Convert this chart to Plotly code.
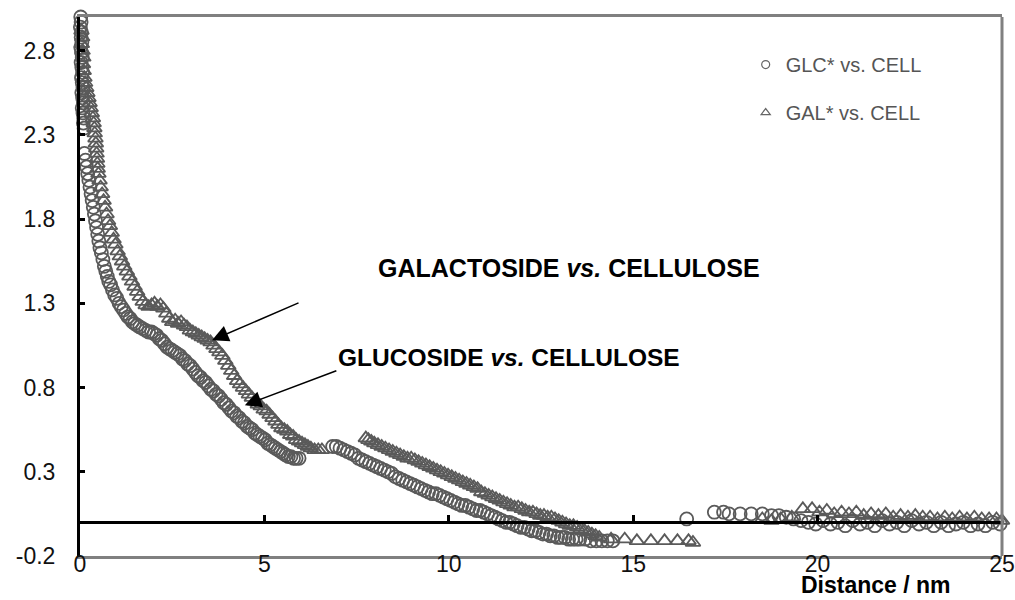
import plotly.graph_objects as go

# ---------------- data ----------------
glc_x = [0.02,0.03,0.01,0.04,0.03,0.05,0.02,0.04,0.06,0.03,0.05,0.07,0.04,0.06,0.08,0.05,0.07,0.09,0.06,0.08,0.10,0.09,0.11,
         0.12,0.15,0.18,0.21,0.24,0.27,0.30,0.33,0.36,0.39,0.42,0.45,0.48,0.51,0.54,0.58,0.62,0.66,0.70,0.74,0.78,0.83,0.88,
         0.94,1.00,1.06,1.12,1.18,1.24,1.30,1.36,1.42,1.48,1.55,1.62,
         1.70,1.78,1.86,1.94,2.01,2.08,2.15,2.22,2.29,2.36,2.43,2.50,2.57,2.64,2.71,2.78,2.85,2.92,2.99,3.06,3.13,3.20,3.27,
         3.34,3.41,3.48,3.55,3.62,3.69,3.76,3.83,3.90,3.97,4.04,4.11,4.18,4.25,4.32,4.39,4.46,4.53,4.60,4.67,4.74,4.81,4.88,
         4.95,5.02,5.09,5.16,5.23,5.30,5.37,5.44,5.51,5.58,5.65,5.72,5.79,5.86,5.94,
         6.85,6.95,7.05,7.15,7.25,7.35,7.45,7.55,7.65,7.75,7.85,7.95,8.05,8.15,8.25,8.35,8.45,8.55,8.65,8.75,8.85,8.95,9.05,
         9.15,9.25,9.35,9.45,9.55,9.65,9.75,9.85,9.95,10.05,10.15,10.25,10.35,10.45,10.55,10.65,10.75,10.85,10.95,11.05,
         11.15,11.25,11.35,11.45,11.55,11.65,11.75,11.85,11.95,12.05,12.15,12.25,12.35,12.45,12.55,12.65,12.75,12.85,12.95,
         13.05,13.15,13.25,13.35,13.45,13.55,13.70,13.85,14.00,14.15,14.30,14.45,
         16.45,17.20,17.45,17.60,17.90,18.20,18.50,18.75,18.95,19.15,19.35,19.55,19.75,19.95,20.15,20.35,20.55,20.75,20.95,
         21.15,21.35,21.55,21.75,21.95,22.15,22.35,22.55,22.75,22.95,23.15,23.35,23.55,23.75,23.95,24.15,24.35,24.55,24.75,24.95]
glc_y = [3.00,2.97,2.94,2.91,2.88,2.85,2.82,2.79,2.76,2.73,2.70,2.67,2.64,2.61,2.58,2.55,2.52,2.49,2.46,2.43,2.40,2.37,2.34,
         2.19,2.15,2.11,2.07,2.03,1.99,1.95,1.91,1.87,1.83,1.79,1.75,1.71,1.67,1.63,1.60,1.56,1.52,1.49,1.46,1.43,1.41,1.38,
         1.35,1.33,1.30,1.28,1.26,1.24,1.22,1.21,1.19,1.18,1.17,1.16,
         1.15,1.14,1.13,1.13,1.12,1.11,1.09,1.08,1.06,1.04,1.03,1.02,1.01,1.00,0.99,0.97,0.96,0.94,0.93,0.91,0.89,0.87,0.86,
         0.84,0.83,0.81,0.79,0.78,0.76,0.75,0.73,0.71,0.70,0.68,0.66,0.65,0.63,0.62,0.60,0.59,0.57,0.56,0.55,0.53,0.52,0.51,
         0.50,0.49,0.47,0.46,0.45,0.44,0.43,0.42,0.41,0.40,0.39,0.39,0.38,0.38,0.38,
         0.45,0.45,0.44,0.43,0.42,0.41,0.40,0.38,0.37,0.36,0.35,0.34,0.33,0.32,0.31,0.30,0.29,0.27,0.26,0.25,0.24,0.23,0.22,
         0.21,0.20,0.19,0.18,0.17,0.17,0.16,0.15,0.14,0.13,0.12,0.11,0.10,0.10,0.09,0.08,0.07,0.07,0.06,0.05,
         0.04,0.03,0.02,0.01,0.00,0.00,-0.01,-0.02,-0.03,-0.03,-0.04,-0.05,-0.05,-0.06,-0.07,-0.07,-0.08,-0.08,-0.09,
         -0.09,-0.09,-0.10,-0.10,-0.10,-0.10,-0.10,-0.11,-0.11,-0.11,-0.11,-0.11,
         0.02,0.06,0.06,0.05,0.05,0.05,0.05,0.04,0.04,0.03,0.02,0.01,0.00,-0.01,0.01,-0.01,0.00,-0.02,0.01,
         -0.01,0.00,-0.02,0.01,-0.01,0.00,-0.02,0.01,-0.01,0.00,-0.02,0.00,-0.02,-0.01,0.00,-0.02,-0.01,-0.02,0.00,-0.01]

gal_x = [0.04,0.06,0.05,0.07,0.09,0.08,0.10,0.12,0.14,0.17,0.20,0.23,0.26,0.29,0.32,0.35,0.37,0.39,0.40,0.42,0.43,0.44,0.45,
         0.46,0.47,0.48,
         0.50,0.53,0.56,0.60,0.64,0.68,0.72,0.76,0.81,0.86,0.91,0.96,1.02,1.08,1.14,1.20,1.27,1.34,1.41,1.48,1.55,1.62,1.70,
         1.78,1.86,1.94,2.02,2.10,2.18,2.26,2.34,2.42,2.50,2.58,2.66,2.74,2.82,2.90,2.98,3.06,3.14,3.22,3.30,3.38,3.46,3.54,
         3.62,3.70,3.78,3.86,3.94,4.02,4.10,4.18,4.26,4.34,4.42,4.50,4.58,4.66,4.74,4.82,4.90,4.98,5.06,5.14,5.22,5.30,5.38,
         5.46,5.54,5.62,5.70,5.78,5.86,5.94,6.02,6.10,6.18,6.26,6.36,6.46,6.56,
         7.75,7.82,7.90,7.98,8.08,8.18,8.28,8.38,8.48,8.58,8.68,8.78,8.88,8.98,9.08,9.18,9.28,9.38,9.48,9.58,9.68,9.78,9.88,
         9.98,10.08,10.18,10.28,10.38,10.48,10.58,10.68,10.78,10.88,10.98,11.08,11.18,11.28,11.38,11.48,11.58,11.68,11.78,
         11.88,11.98,12.08,12.18,12.28,12.38,12.48,12.58,12.68,12.78,12.88,12.98,13.08,13.18,13.28,13.38,13.48,13.58,13.68,
         13.78,13.88,13.98,14.08,14.40,14.77,15.10,15.48,15.85,16.20,16.50,16.62,
         18.50,18.75,19.00,19.30,19.60,19.85,20.05,20.25,20.45,20.65,20.85,21.05,21.25,21.45,21.65,21.85,22.05,22.25,22.45,
         22.65,22.85,23.05,23.25,23.45,23.65,23.85,24.05,24.25,24.45,24.65,24.85,25.00]
gal_y = [2.92,2.88,2.84,2.80,2.76,2.72,2.68,2.64,2.61,2.58,2.55,2.52,2.49,2.46,2.43,2.40,2.37,2.34,2.31,2.28,2.25,2.22,2.19,
         2.16,2.13,2.10,
         2.07,2.03,1.99,1.95,1.91,1.87,1.83,1.79,1.76,1.72,1.68,1.65,1.61,1.58,1.55,1.52,1.49,1.46,1.43,1.40,1.37,1.34,1.31,
         1.29,1.28,1.29,1.30,1.28,1.29,1.27,1.24,1.21,1.19,1.20,1.18,1.19,1.17,1.16,1.14,1.13,1.12,1.11,1.10,1.09,1.08,1.07,
         1.05,1.03,1.01,0.99,0.96,0.93,0.90,0.87,0.84,0.82,0.80,0.78,0.76,0.74,0.72,0.70,0.69,0.67,0.66,0.64,0.62,0.60,0.58,
         0.56,0.55,0.54,0.52,0.51,0.49,0.48,0.47,0.46,0.45,0.44,0.43,0.43,0.43,
         0.50,0.49,0.48,0.47,0.46,0.45,0.44,0.43,0.42,0.41,0.40,0.39,0.38,0.38,0.37,0.36,0.35,0.34,0.33,0.32,0.31,0.30,0.29,
         0.28,0.27,0.26,0.25,0.24,0.23,0.22,0.21,0.20,0.18,0.17,0.16,0.15,0.14,0.13,0.12,0.11,0.10,0.09,
         0.09,0.08,0.07,0.06,0.06,0.05,0.04,0.04,0.03,0.03,0.02,0.01,0.00,-0.01,-0.02,-0.02,-0.03,-0.04,-0.05,
         -0.06,-0.07,-0.08,-0.09,-0.10,-0.10,-0.11,-0.11,-0.11,-0.11,-0.11,-0.12,
         0.02,0.01,0.02,0.03,0.08,0.08,0.06,0.07,0.05,0.06,0.05,0.06,0.04,0.05,0.04,0.05,0.03,0.04,0.03,
         0.04,0.03,0.03,0.02,0.03,0.02,0.03,0.02,0.03,0.02,0.02,0.02,0.01]

x_ticks = [0, 5, 10, 15, 20, 25]
y_ticks = [-0.2, 0.3, 0.8, 1.3, 1.8, 2.3, 2.8]
y_ticktext = ["-0.2", "0.3", "0.8", "1.3", "1.8", "2.3", "2.8"]

series_names = ["GLC* vs. CELL", "GAL* vs. CELL"]

# ---------------- figure ----------------
FONT = "Liberation Sans, Arial, sans-serif"
MC = "#5a5a5a"

fig = go.Figure()
fig.add_trace(go.Scatter(x=glc_x, y=glc_y, mode="markers", showlegend=False, cliponaxis=False,
                         marker=dict(symbol="circle-open", size=13, color=MC, line=dict(width=1.8, color=MC)),
                         xaxis="x", yaxis="y"))
fig.add_trace(go.Scatter(x=gal_x, y=gal_y, mode="markers", showlegend=False, cliponaxis=False,
                         marker=dict(symbol="triangle-up-open", size=13, color=MC, line=dict(width=1.8, color=MC)),
                         xaxis="x2", yaxis="y"))
# legend entries
fig.add_trace(go.Scatter(x=[None], y=[None], mode="markers", name=series_names[0], legendgroup="a",
                         marker=dict(symbol="circle-open", size=8, color="#666", line=dict(width=1.2, color="#666"))))
fig.add_trace(go.Scatter(x=[None], y=[None], mode="markers", name=series_names[1], legendgroup="b",
                         marker=dict(symbol="triangle-up-open", size=8, color="#666", line=dict(width=1.2, color="#666"))))

fig.update_layout(
    width=1015, height=600,
    margin=dict(l=80, r=13, t=17, b=44),
    paper_bgcolor="white", plot_bgcolor="white",
    font=dict(family=FONT, color="#111"),
    xaxis=dict(range=[0, 25], tickvals=x_ticks, showline=True, linecolor="#808080", linewidth=3, mirror=True,
               ticks="", showgrid=False, zeroline=False, tickfont=dict(size=23, color="#111"),
               ticklabelstandoff=-15, automargin=False),
    xaxis2=dict(range=[0, 25], overlaying="x", anchor="free", position=0.0625, side="bottom",
                tickvals=[5, 10, 15, 20], showline=True, linecolor="black", linewidth=3,
                ticks="inside", ticklen=6, tickwidth=3, tickcolor="black",
                showticklabels=False, showgrid=False, zeroline=False, automargin=False),
    yaxis=dict(range=[-0.2, 3.0], tickvals=y_ticks, ticktext=y_ticktext, showline=True, linecolor="black",
               linewidth=3, ticks="inside", ticklen=5, tickwidth=3, tickcolor="black",
               showgrid=False, zeroline=False, tickfont=dict(size=23, color="#111"), ticklabelstandoff=17,
               automargin=False),
    legend=dict(x=0.722, y=0.948, xanchor="left", yanchor="top", bgcolor="rgba(0,0,0,0)",
                font=dict(size=20, color="#555", family=FONT), tracegroupgap=19, itemwidth=30),
    shapes=[dict(type="line", xref="paper", yref="paper", x0=1, x1=1, y0=0, y1=1,
                 line=dict(color="#808080", width=3))],
    annotations=[
        dict(text="<b>GALACTOSIDE <i>vs.</i> CELLULOSE</b>", x=13.26, y=1.508, xref="x", yref="y",
             showarrow=False, font=dict(size=25, color="black", family=FONT), xanchor="center", yanchor="middle"),
        dict(text="<b>GLUCOSIDE <i>vs.</i> CELLULOSE</b>", x=11.63, y=0.98, xref="x", yref="y",
             showarrow=False, font=dict(size=24.5, color="black", family=FONT), xanchor="center", yanchor="middle"),
        dict(text="", x=3.58, y=1.081, xref="x", yref="y", ax=88, ay=-38, showarrow=True,
             arrowhead=2, arrowsize=2.2, arrowwidth=1.5, arrowcolor="black"),
        dict(text="", x=4.47, y=0.695, xref="x", yref="y", ax=93, ay=-35, showarrow=True,
             arrowhead=2, arrowsize=2.2, arrowwidth=1.5, arrowcolor="black"),
        dict(text="<b>Distance / nm</b>", x=0.863, y=-0.0816, xref="paper", yref="paper", showarrow=False,
             font=dict(size=23, color="black", family=FONT), xanchor="center", yanchor="bottom"),
    ],
)

fig.write_html("out.html")
